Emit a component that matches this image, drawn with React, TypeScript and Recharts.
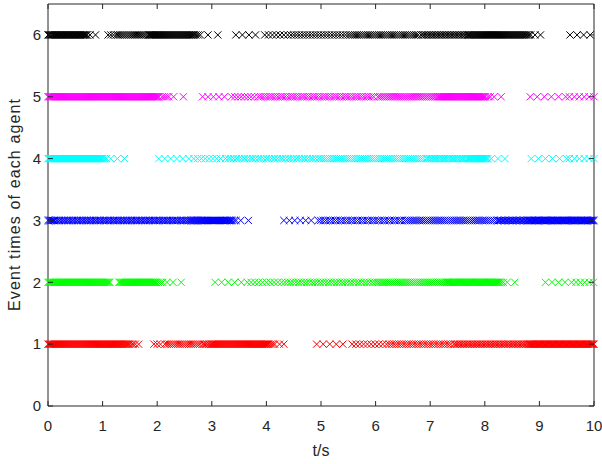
import React from 'react';
import { ScatterChart, Scatter, XAxis, YAxis, ReferenceLine } from 'recharts';

// Event times (s) of each agent.
// A run is [first event, last event, inter-event interval]; lone crosses are listed apart.
const agent1Runs = [
  [0, 1.5, 0.018], [1.53, 1.56, 0.03],
  [1.94, 2.1, 0.06], [2.14, 2.8, 0.04], [2.83, 3.0, 0.03], [3.0, 4.05, 0.018], [4.08, 4.18, 0.035],
  [4.92, 5.5, 0.12], [5.57, 6.2, 0.07], [6.25, 7.4, 0.045], [7.43, 8.8, 0.03], [8.8, 10, 0.016],
];
const agent1Lone = [1.6, 1.66, 4.24, 4.32];

const agent2Runs = [
  [0, 1.15, 0.018], [1.3, 1.99, 0.018], [2.02, 2.12, 0.04],
  [3.06, 3.6, 0.12], [3.65, 4.3, 0.07], [4.34, 6.0, 0.05], [6.03, 7.3, 0.035], [7.3, 8.27, 0.017], [8.3, 8.34, 0.04],
  [9.11, 9.6, 0.12], [9.67, 10, 0.08],
];
const agent2Lone = [2.18, 2.29, 2.44, 8.41, 8.55];

const agent3Runs = [
  [0, 0.1, 0.02], [0.12, 2.6, 0.03], [2.6, 3.38, 0.018], [3.41, 3.47, 0.035],
  [4.32, 4.9, 0.1], [4.95, 6.5, 0.045], [6.53, 8.2, 0.035], [8.22, 8.8, 0.025], [8.8, 10, 0.016],
];
const agent3Lone = [3.53, 3.67];

const agent4Runs = [
  [0, 1.01, 0.015], [1.04, 1.08, 0.035],
  [2.03, 2.6, 0.11], [2.67, 3.2, 0.07], [3.25, 5.0, 0.05], [5.04, 6.9, 0.04], [6.93, 7.7, 0.03], [7.7, 8.07, 0.017],
  [8.85, 9.5, 0.13], [9.55, 10, 0.09],
];
const agent4Lone = [1.15, 1.27, 1.4, 8.12, 8.24, 8.37];

const agent5Runs = [
  [0, 2.05, 0.018], [2.09, 2.17, 0.04],
  [2.83, 3.3, 0.1], [3.36, 3.8, 0.06], [3.85, 6.0, 0.045], [6.04, 7.15, 0.035], [7.15, 8.02, 0.018], [8.06, 8.1, 0.04],
  [8.83, 9.5, 0.13], [9.55, 10, 0.09],
];
const agent5Lone = [2.21, 2.3, 2.48, 8.17, 8.3];

const agent6Runs = [
  [0, 0.72, 0.015],
  [1.1, 1.25, 0.05], [1.28, 1.85, 0.035], [1.85, 2.68, 0.018], [2.71, 2.8, 0.04],
  [3.44, 3.9, 0.12], [3.97, 4.4, 0.07], [4.45, 5.5, 0.05], [5.54, 6.8, 0.04], [6.83, 7.7, 0.03], [7.7, 8.78, 0.018], [8.81, 8.84, 0.03],
];
const agent6Lone = [0.77, 0.87, 2.93, 3.11, 8.92, 9.02, 9.56, 9.69, 9.81, 9.93];

const xTicks = [0, 1, 2, 3, 4, 5, 6, 7, 8, 9, 10];
const yTicks = [0, 1, 2, 3, 4, 5, 6];
const agentColors = ['#ff0000', '#00ff00', '#0000ff', '#00ffff', '#ff00ff', '#000000'];

const W = 602;
const H = 464;
const MARGIN = { top: 4, right: 8, bottom: 0, left: 0 };
const Y_AXIS_W = 48;
const X_AXIS_H = 58;
const PLOT_W = W - MARGIN.left - MARGIN.right - Y_AXIS_W;
const PLOT_H = H - MARGIN.top - MARGIN.bottom - X_AXIS_H;
const AXIS = '#262626';
const FONT = '"Liberation Sans", Arial, Helvetica, sans-serif';

const eventTimes = (runs: number[][], lone: number[]) => {
  const out: number[] = [];
  runs.forEach(([a, b, h]) => {
    for (let t = a; t <= b + 1e-6; t += h) out.push(Math.min(10, Math.round(t * 1000) / 1000));
  });
  return out.concat(lone);
};

const agents = [
  eventTimes(agent1Runs, agent1Lone),
  eventTimes(agent2Runs, agent2Lone),
  eventTimes(agent3Runs, agent3Lone),
  eventTimes(agent4Runs, agent4Lone),
  eventTimes(agent5Runs, agent5Lone),
  eventTimes(agent6Runs, agent6Lone),
].map((times, i) => ({ id: i + 1, color: agentColors[i], data: times.map((t) => ({ t, y: i + 1 })) }));

const cross = (color: string) => (p: any) => {
  const { cx, cy } = p;
  const r = 3.6;
  return (
    <path
      d={`M${cx - r},${cy - r}L${cx + r},${cy + r}M${cx - r},${cy + r}L${cx + r},${cy - r}`}
      stroke={color}
      strokeWidth={1}
      fill="none"
    />
  );
};

const XTick = ({ x, y, payload }: any) => (
  <g>
    <line x1={x} y1={y} x2={x} y2={y - 5} stroke={AXIS} />
    <line x1={x} y1={y - PLOT_H} x2={x} y2={y - PLOT_H + 5} stroke={AXIS} />
    <text x={x} y={y + 25} textAnchor="middle" fill={AXIS} fontSize={15} fontFamily={FONT}>
      {payload.value}
    </text>
  </g>
);

const YTick = ({ x, y, payload }: any) => (
  <g>
    <line x1={x} y1={y} x2={x + 5} y2={y} stroke={AXIS} />
    <line x1={x + PLOT_W} y1={y} x2={x + PLOT_W - 5} y2={y} stroke={AXIS} />
    <text x={x - 7} y={y} dy="0.35em" textAnchor="end" fill={AXIS} fontSize={15} fontFamily={FONT}>
      {payload.value}
    </text>
  </g>
);

const XLabel = ({ viewBox }: any) => (
  <text x={viewBox.x + viewBox.width / 2} y={viewBox.y + 50} textAnchor="middle" fill={AXIS} fontSize={16} fontFamily={FONT}>
    t/s
  </text>
);

const YLabel = ({ viewBox }: any) => {
  const cx = viewBox.x + 20;
  const cy = viewBox.y + viewBox.height / 2;
  return (
    <text
      x={cx}
      y={cy}
      transform={`rotate(-90 ${cx} ${cy})`}
      textAnchor="middle"
      fill={AXIS}
      fontSize={16}
      fontFamily={FONT}
      textLength={212}
      lengthAdjust="spacing"
    >
      Event times of each agent
    </text>
  );
};

export default function App() {
  return (
    <div style={{ width: W, height: H, background: '#fff' }}>
      <style>{'body{margin:0}'}</style>
      <ScatterChart width={W} height={H} margin={MARGIN}>
        <XAxis
          type="number"
          dataKey="t"
          domain={[0, 10]}
          ticks={xTicks}
          interval={0}
          height={X_AXIS_H}
          axisLine={{ stroke: AXIS }}
          tickLine={false}
          tickSize={0}
          tickMargin={0}
          tick={<XTick />}
          label={XLabel}
        />
        <YAxis
          type="number"
          dataKey="y"
          domain={[0, 6.5]}
          ticks={yTicks}
          interval={0}
          width={Y_AXIS_W}
          axisLine={{ stroke: AXIS }}
          tickLine={false}
          tickSize={0}
          tickMargin={0}
          tick={<YTick />}
          label={YLabel}
        />
        <ReferenceLine y={6.5} stroke={AXIS} />
        <ReferenceLine x={10} stroke={AXIS} />
        {agents.map((a) => (
          <Scatter
            key={a.id}
            name={`Agent ${a.id}`}
            data={a.data}
            shape={cross(a.color)}
            isAnimationActive={false}
          />
        ))}
      </ScatterChart>
    </div>
  );
}
